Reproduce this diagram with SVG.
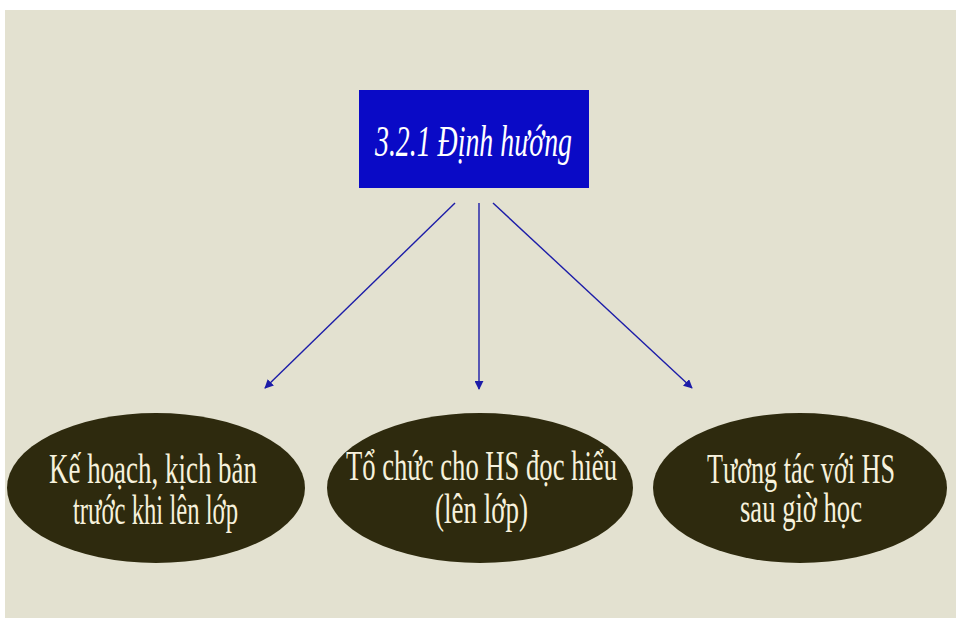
<svg xmlns="http://www.w3.org/2000/svg" width="956" height="618" viewBox="0 0 956 618">
  <style>
    .node-shape { fill: #2e2a0e; }
    .node-text { font-family: "Liberation Serif", "Times New Roman", serif; font-size: 42px; fill: #f6f1dc; }
    .title-text { font-family: "Liberation Serif", "Times New Roman", serif; font-style: italic; font-size: 44px; fill: #ffffff; }
    .link { stroke: #1c1ca8; stroke-width: 1.4; fill: none; marker-end: url(#arrow); }
  </style>
  <defs>
    <marker id="arrow" viewBox="0 0 10 10" refX="9" refY="5" markerWidth="9" markerHeight="9" markerUnits="userSpaceOnUse" orient="auto">
      <path d="M0,0 L10,5 L0,10 z" fill="#1c1ca8"/>
    </marker>
  </defs>

  <!-- page -->
  <rect x="0" y="0" width="956" height="618" fill="#ffffff"/>
  <rect x="5" y="10" width="951" height="608" fill="#e3e1d0"/>

  <!-- root -->
  <g id="root">
    <rect x="359" y="90" width="230" height="98" fill="#0a0ac6"/>
    <text class="title-text" x="375" y="156" textLength="197" lengthAdjust="spacingAndGlyphs">3.2.1 Định hướng</text>
  </g>

  <!-- connectors -->
  <g id="links">
    <line class="link" x1="455" y1="203" x2="265" y2="388"/>
    <line class="link" x1="479" y1="203" x2="479" y2="389"/>
    <line class="link" x1="493" y1="203" x2="692" y2="388"/>
  </g>

  <g id="plan">
    <ellipse class="node-shape" cx="156" cy="488" rx="149" ry="75"/>
    <text class="node-text" x="49" y="483" textLength="208" lengthAdjust="spacingAndGlyphs">Kế hoạch, kịch bản</text>
    <text class="node-text" x="73" y="524" textLength="165" lengthAdjust="spacingAndGlyphs">trước khi lên lớp</text>
  </g>

  <g id="classroom">
    <ellipse class="node-shape" cx="480" cy="488" rx="153" ry="75"/>
    <text class="node-text" x="346" y="480" textLength="271" lengthAdjust="spacingAndGlyphs">Tổ chức cho HS đọc hiểu</text>
    <text class="node-text" x="435" y="523" textLength="93" lengthAdjust="spacingAndGlyphs">(lên lớp)</text>
  </g>

  <g id="after">
    <ellipse class="node-shape" cx="800" cy="488" rx="147" ry="75"/>
    <text class="node-text" x="707" y="483" textLength="188" lengthAdjust="spacingAndGlyphs">Tương tác với HS</text>
    <text class="node-text" x="740" y="522" textLength="122" lengthAdjust="spacingAndGlyphs">sau giờ học</text>
  </g>
</svg>
